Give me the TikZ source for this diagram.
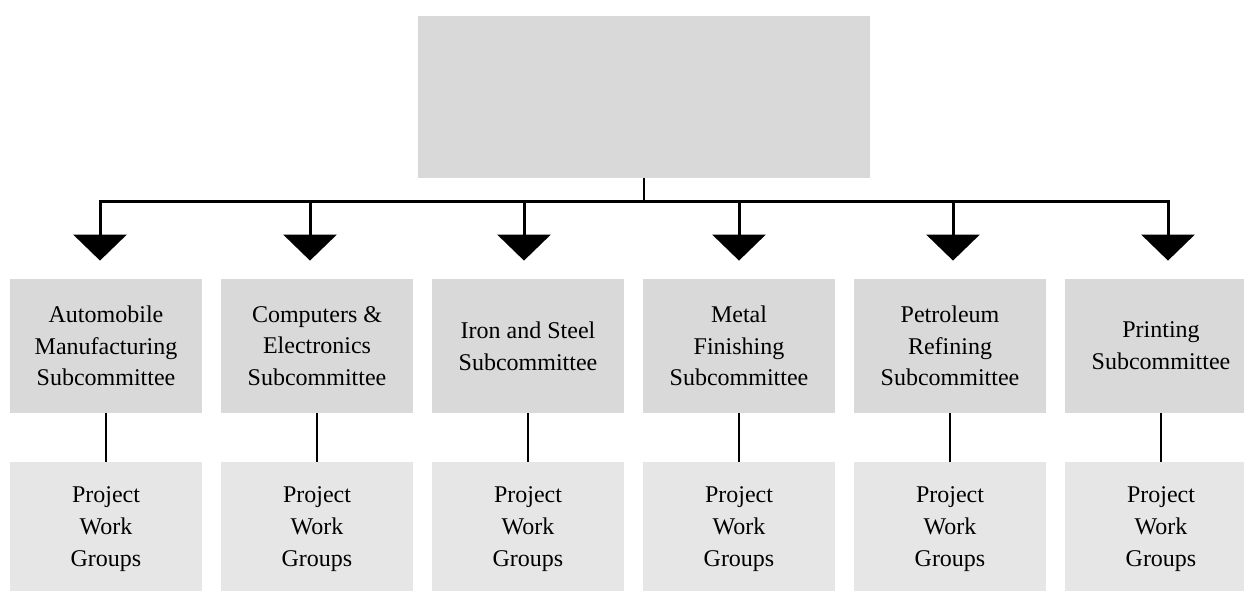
\documentclass[tikz,border=0pt]{standalone}
\usepackage{fontspec}
\setmainfont{Liberation Serif}
\usepackage{tikz}
\usetikzlibrary{arrows.meta}

\definecolor{boxgray}{HTML}{D9D9D9}
\definecolor{groupgray}{HTML}{E6E6E6}

\tikzset{
  board/.style={fill=boxgray, minimum width=226pt, minimum height=81pt, inner sep=0pt},
  subbox/.style={fill=boxgray, minimum width=96pt, minimum height=67pt, inner sep=0pt,
                 align=center, font=\fontsize{12}{15.85}\selectfont},
  groupbox/.style={fill=groupgray, minimum width=96pt, minimum height=67pt, inner sep=0pt,
                   align=center, font=\fontsize{12}{15.85}\selectfont, node distance=91.5pt},
  bus/.style={line width=1.5pt, line cap=rect},
  link/.style={line width=1.3pt},
  drop/.style={line width=1.5pt, shorten >=9pt, -{Triangle[width=26.5pt,length=13pt]}}
}

\begin{document}
\begin{tikzpicture}[x=0.5pt, y=-0.5pt, node distance=105.5pt]
  \useasboundingbox (0,0) rectangle (1244,590);

  \node[board]  (EC)    at (644,97) {};

  \node[subbox] (Auto)  at (106,346)      {Automobile\\Manufacturing\\Subcommittee};
  \node[subbox] (Comp)  [right of=Auto]   {Computers \&\\Electronics\\Subcommittee};
  \node[subbox] (Iron)  [right of=Comp]   {Iron and Steel\\Subcommittee};
  \node[subbox] (Metal) [right of=Iron]   {Metal\\Finishing\\Subcommittee};
  \node[subbox] (Petro) [right of=Metal]  {Petroleum\\Refining\\Subcommittee};
  \node[subbox] (Print) [right of=Petro]  {Printing\\Subcommittee};

  \node[groupbox] (AutoPWG)  [below of=Auto]  {Project\\Work\\Groups};
  \node[groupbox] (CompPWG)  [below of=Comp]  {Project\\Work\\Groups};
  \node[groupbox] (IronPWG)  [below of=Iron]  {Project\\Work\\Groups};
  \node[groupbox] (MetalPWG) [below of=Metal] {Project\\Work\\Groups};
  \node[groupbox] (PetroPWG) [below of=Petro] {Project\\Work\\Groups};
  \node[groupbox] (PrintPWG) [below of=Print] {Project\\Work\\Groups};

  % drop points on the bus line
  \coordinate (dAuto)  at (100,201);
  \coordinate (dComp)  at (310,201);
  \coordinate (dIron)  at (524,201);
  \coordinate (dMetal) at (739,201);
  \coordinate (dPetro) at (953,201);
  \coordinate (dPrint) at (1168,201);

  \draw[bus]  (dAuto) -- (dPrint);
  \draw[link] (EC.south) -- (EC.south |- dAuto);

  \path (dAuto)  edge [drop] (dAuto  |- Auto.north)
        (dComp)  edge [drop] (dComp  |- Comp.north)
        (dIron)  edge [drop] (dIron  |- Iron.north)
        (dMetal) edge [drop] (dMetal |- Metal.north)
        (dPetro) edge [drop] (dPetro |- Petro.north)
        (dPrint) edge [drop] (dPrint |- Print.north);

  \path (Auto)  edge [link] (AutoPWG)
        (Comp)  edge [link] (CompPWG)
        (Iron)  edge [link] (IronPWG)
        (Metal) edge [link] (MetalPWG)
        (Petro) edge [link] (PetroPWG)
        (Print) edge [link] (PrintPWG);
\end{tikzpicture}
\end{document}
